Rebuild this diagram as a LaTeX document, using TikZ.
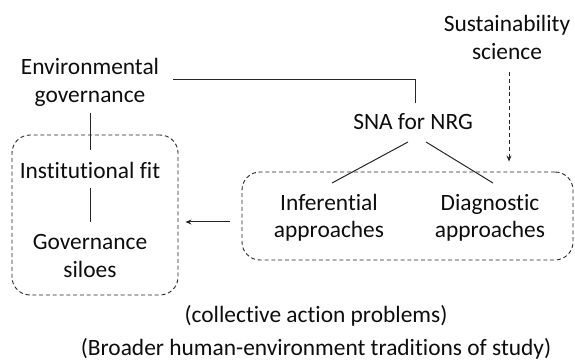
\documentclass[tikz,border=0pt]{standalone}
\usepackage{fontspec}
\setmainfont{Carlito}[Ligatures=NoCommon]
\usetikzlibrary{arrows.meta,calc}
\begin{document}
\begin{tikzpicture}[x=1pt,y=-1pt,
  txt/.style={anchor=base,inner sep=0pt,align=center,font=\fontsize{23.4}{28}\selectfont,text=black!95},
  ln/.style={line width=1pt,draw=black!85},
  dashbox/.style={draw=black!85,line width=0.9pt,dash pattern=on 4pt off 2.8pt,rounded corners=18pt,inner sep=0pt}]
\useasboundingbox (0,0) rectangle (575,363);
\node[dashbox,minimum width=166pt,minimum height=160pt] (lbox) at (95,215) {};
\node[dashbox,minimum width=331pt,minimum height=88pt] (rbox) at (407.5,216) {};
\node[txt] (sust) at (507,60) {Sustainability\\science};
\node[txt] (env) at (90,103) {Environmental\\governance};
\node[txt] (sna) at (413,130) {SNA for NRG};
\node[txt] (inst) at (90,179) {Institutional fit};
\node[txt] (gov) at (90,277) {Governance\\siloes};
\node[txt] (inf) at (329,238) {Inferential\\approaches};
\node[txt] (diag) at (490,238) {Diagnostic\\approaches};
\node[txt] (coll) at (316,322) {(collective action problems)};
\node[txt] (broad) at (316,355) {(Broader human-environment traditions of study)};
\draw[ln] ($(env.base)+(83,-23)$) -| ($(sna.base)+(2,-27)$);
\draw[ln] ($(env.base)+(0,10)$) -- ($(inst.base)+(0,-29)$);
\draw[ln] ($(inst.base)+(0,9)$) -- ($(gov.base)+(0,-55)$);
\draw[ln] ($(sna.base)+(-5,12)$) -- ($(inf.base)+(3,-55)$);
\draw[ln] ($(sna.base)+(13,12)$) -- ($(diag.base)+(3,-55)$);
\draw[ln,dash pattern=on 4pt off 2.8pt,-{Stealth[length=6pt,width=5pt]}] ($(sust.base)+(2,12)$) -- ($(rbox.north)+(101.5,-10)$);
\draw[ln,-{Stealth[length=6pt,width=5pt]}] ($(rbox.west)+(-12,6)$) -- ($(lbox.east)+(7,7)$);
\end{tikzpicture}
\end{document}
